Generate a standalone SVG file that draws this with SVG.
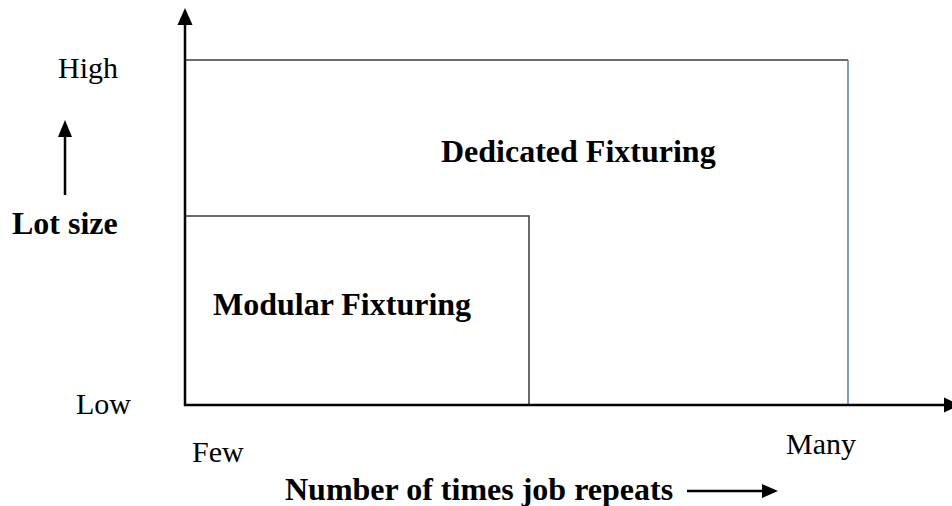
<svg xmlns="http://www.w3.org/2000/svg" width="952" height="506" viewBox="0 0 952 506">
  <style>
    .lbl { font-family: "Liberation Serif", "Times New Roman", serif; font-size: 30px; fill: #000; }
    .bold { font-weight: bold; font-size: 32px; }
    .axis { stroke: #000; stroke-width: 2.5; fill: none; }
    .box { stroke: #3a3a3a; stroke-width: 1.5; fill: none; }
  </style>

  <!-- regions -->
  <g id="dedicated-region">
    <path class="box" d="M185,60 H848"/>
    <path d="M848,60 V405" stroke="#5b7fb0" stroke-width="1.5" fill="none"/>
  </g>
  <g id="modular-region">
    <path class="box" d="M185,216 H529 V405"/>
  </g>

  <!-- axes and direction arrows -->
  <g id="connectors">
    <line class="axis" x1="185" y1="406" x2="185" y2="24"/>
    <path d="M185,8 L177.5,25 L192.5,25 Z" fill="#000"/>
    <line class="axis" x1="184" y1="405" x2="946" y2="405"/>
    <path d="M960,405 L944,397.5 L944,412.5 Z" fill="#000"/>
    <line class="axis" x1="65" y1="195" x2="65" y2="135"/>
    <path d="M65,120 L58,137 L72,137 Z" fill="#000"/>
    <line class="axis" x1="687" y1="491" x2="764" y2="491"/>
    <path d="M778,491 L762,484 L762,498 Z" fill="#000"/>
  </g>

  <!-- labels -->
  <g id="labels">
    <text class="lbl" x="58" y="78">High</text>
    <text class="lbl" x="76" y="414">Low</text>
    <text class="lbl bold" x="12" y="234">Lot size</text>
    <text class="lbl bold" x="441" y="162">Dedicated Fixturing</text>
    <text class="lbl bold" x="213" y="315">Modular Fixturing</text>
    <text class="lbl" x="192" y="462">Few</text>
    <text class="lbl" x="786" y="454">Many</text>
    <text class="lbl bold" x="285" y="500">Number of times job repeats</text>
  </g>
</svg>
